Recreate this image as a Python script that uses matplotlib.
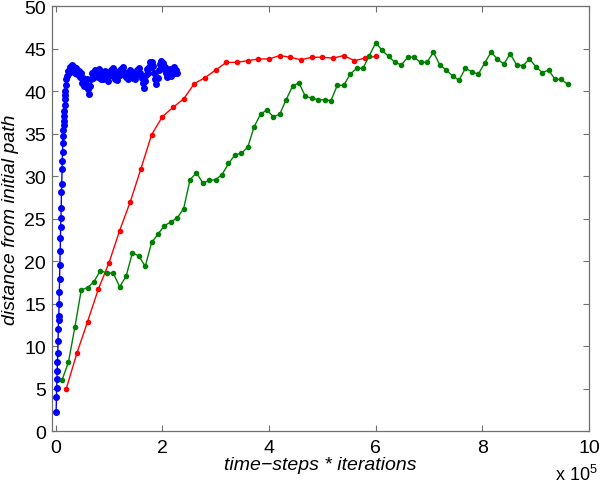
import numpy as np
import matplotlib
matplotlib.use("Agg")
import matplotlib.pyplot as plt

# x in units of 1e5 (time-steps * iterations)
blue_rise = [2.3, 4.0, 5.1, 6.1, 7.1, 8.1, 9.2, 10.6, 12.0, 13.1,
             13.6, 15.0, 16.4, 17.9, 19.5, 21.2, 22.7, 24.0, 25.1, 26.3,
             28.1, 29.1, 30.8, 31.8, 32.9, 33.9, 34.7, 35.4, 36.0, 36.5,
             37.1, 37.7, 38.4, 39.1, 39.5, 40.0, 40.7, 41.4]
blue_plateau = [41.8, 42.4, 42.1, 42.8, 42.5, 43.1, 42.6, 42.9, 42.2, 42.7,
                42.0, 42.4, 41.7, 42.1, 41.0, 41.6, 40.6, 41.3, 40.8, 41.4,
                40.3, 39.7, 40.6, 41.5, 42.2, 41.6, 42.5, 41.9, 42.3, 41.7,
                42.6, 42.0, 41.5, 42.2, 41.4, 41.9, 42.4, 41.6, 42.1, 41.2,
                41.8, 42.5, 41.9, 42.7, 42.2, 41.5, 42.0, 41.3, 41.8, 42.4,
                41.9, 42.6, 42.1, 42.8, 42.3, 41.7, 42.2, 41.5, 42.0, 42.5,
                41.8, 42.3, 41.6, 42.1, 41.4, 41.9, 42.5, 42.0, 42.7, 42.2,
                41.6, 41.0, 40.4, 41.2, 41.9, 42.6, 42.1, 42.8, 43.4, 42.9,
                43.5, 43.0, 42.2, 41.5, 40.9, 41.6, 42.5, 43.2, 43.6, 43.0,
                43.3, 42.6, 42.9, 42.2, 41.7, 42.4, 42.0, 42.6, 41.8, 42.3,
                42.8, 42.1, 42.5, 42.2]

red_y = [5.0, 9.2, 12.9, 16.7, 19.8, 23.6, 27.0, 30.9, 34.9, 37.0,
         38.1, 39.1, 40.9, 41.6, 42.5, 43.4, 43.4, 43.6, 43.8, 43.8,
         44.2, 44.0, 43.7, 44.0, 44.0, 43.9, 44.2, 43.6, 43.9, 44.1]

green_y = [6.0, 8.1, 12.2, 16.6, 16.9, 17.6, 18.9, 18.6, 18.6, 17.0,
           18.2, 21.0, 20.6, 19.4, 22.2, 23.2, 24.2, 24.6, 25.1, 26.2,
           29.6, 30.4, 29.2, 29.5, 29.6, 30.2, 31.5, 32.5, 32.7, 33.4,
           35.8, 37.3, 37.8, 37.0, 37.3, 39.0, 40.6, 41.0, 39.4, 39.2,
           39.0, 39.0, 38.9, 40.7, 40.7, 42.0, 42.7, 42.7, 44.2, 45.7,
           44.8, 44.1, 43.4, 43.1, 44.0, 44.0, 43.4, 43.4, 44.6, 43.1,
           42.5, 41.8, 41.3, 42.7, 42.3, 42.0, 43.3, 44.6, 43.8, 43.2,
           44.4, 43.1, 43.0, 43.8, 42.9, 42.2, 42.5, 41.4, 41.4, 40.8]

blue_x = np.concatenate([0.01 + 0.005 * np.arange(len(blue_rise)),
                         0.21 + 0.02 * np.arange(len(blue_plateau))])
blue_y = blue_rise + blue_plateau
red_x = 0.2 * np.arange(1, len(red_y) + 1)
green_x = 0.12 * np.arange(1, len(green_y) + 1)

plt.rcParams["font.family"] = ["Liberation Sans", "DejaVu Sans"]
plt.rcParams["font.size"] = 14
plt.rcParams["mathtext.fontset"] = "custom"
plt.rcParams["mathtext.rm"] = "Liberation Sans"

fig = plt.figure(figsize=(6, 4.85), dpi=100)
ax = fig.add_axes([0.086, 0.109, 0.896, 0.876])

ax.plot(blue_x, blue_y, "-", color="#0000ff", marker=".", markersize=8, linewidth=1)
ax.plot(red_x, red_y, "-", color="#ff0000", marker=".", markersize=6, linewidth=1)
ax.plot(green_x, green_y, "-", color="#008000", marker=".", markersize=6, linewidth=1)

ax.set_xlim(-0.075, 10)
ax.set_ylim(0, 50)
ax.set_xticks([0, 2, 4, 6, 8, 10])
ax.set_yticks(range(0, 51, 5))

for s in ax.spines.values():
    s.set_color("#707070")
    s.set_linewidth(0.9)
ax.tick_params(direction="in", length=4, width=0.8, color="#707070",
               top=True, right=True, labelsize=14)
ax.tick_params(axis="x", pad=6)
ax.tick_params(axis="y", pad=4)

ax.set_xlabel("time\u2212steps * iterations", style="italic", fontsize=14, labelpad=0)
ax.set_ylabel("distance from initial path", style="italic", fontsize=14, labelpad=4)

fig.text(0.925, 0.008, r"x 10$^{\mathrm{5}}$", fontsize=13)

fig.savefig("out.png", dpi=100)
